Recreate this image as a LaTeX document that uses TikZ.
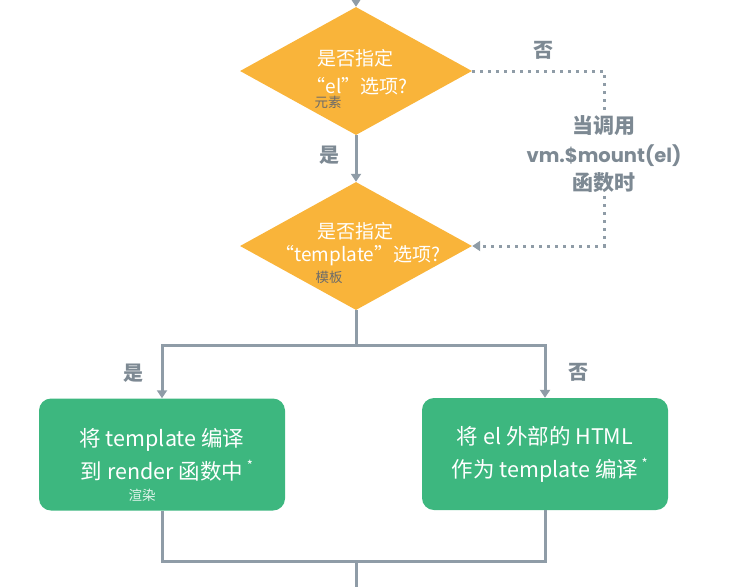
\documentclass[tikz,border=0pt]{standalone}
\usepackage{fontspec}
\setmainfont{Noto Sans CJK SC}
\newfontfamily\popfont{Poppins}
\usetikzlibrary{shapes.geometric,arrows.meta}
\definecolor{dorange}{HTML}{F9B43A}
\definecolor{bgreen}{HTML}{3DB77F}
\definecolor{lgrey}{HTML}{8F9CA7}
\definecolor{tgrey}{HTML}{7D8993}
\tikzset{
  decision/.style={diamond, fill=dorange, draw=none, inner sep=0pt, minimum width=232pt, minimum height=128pt},
  procbox/.style={rectangle, fill=bgreen, draw=none, rounded corners=12pt, minimum width=246pt, minimum height=112pt, text=white, align=center, font=\fontsize{21.5}{33}\selectfont},
  conn/.style={draw=lgrey, line width=3pt},
  arr/.style={conn, -{Triangle[length=8pt,width=10pt]}},
  dotconn/.style={draw=lgrey, line width=3pt, dash pattern=on 3pt off 5pt},
  dtext/.style={text=white, font=\fontsize{19}{22}\selectfont},
  lab/.style={text=tgrey, font=\bfseries\fontsize{20}{22}\selectfont},
  small/.style={font=\fontsize{13.5}{15}\selectfont}
}
\begin{document}
\begin{tikzpicture}[x=1pt,y=-1pt]
\useasboundingbox (0,0) rectangle (733,587);
% decisions
\node[decision] (d1) at (356,71) {};
\node[decision] (d2) at (356,246) {};
\node[dtext] (d1a) at (355,58) {是否指定};
\node[dtext] (d1b) at (357,86) {“el”选项?};
\node[small, text=black!58] (d1c) at (328,102) {元素};
\node[dtext] (d2a) at (355,231) {是否指定};
\node[dtext] (d2b) at (358,256) {“template”选项?};
\node[small, text=black!58] (d2c) at (329,277) {模板};
% boxes
\node[procbox] (b1) at (162,454.5) {将 template 编译\\到 render 函数中\rlap{\,\raisebox{9pt}{\fontsize{13}{13}\selectfont*}}};
\node[small, text=white!85!bgreen] (b1s) at (142,495) {渲染};
\node[procbox] (b2) at (545,454) {将 el 外部的 HTML\\作为 template 编译\rlap{\,\raisebox{9pt}{\fontsize{13}{13}\selectfont*}}};
% labels
\node[lab] (no1) at (543,50) {否};
\node[lab] (yes1) at (329,155) {是};
\node[lab] (yes2) at (133,373) {是};
\node[lab] (no2) at (578,372) {否};
\node[lab, align=center, inner sep=3pt, font=\bfseries\fontsize{21}{28.5}\selectfont] (mount) at (604,154.5) {当调用\\{\popfont\bfseries\fontsize{19.5}{28.5}\selectfont vm.\$mount(el)}\\函数时};
% connectors
\coordinate (topin) at (356,0);
\draw[arr] (topin) -- (d1.north);
\draw[arr] (d1.south) -- (d2.north);
\draw[dotconn] (d1.east) -| (mount.north);
\draw[dotconn, -{Triangle[length=8pt,width=10pt]}] (mount.south) |- (d2.east);
\coordinate (split) at (356,345);
\draw[conn] (d2.south) -- (split);
\draw[arr] (split) -| (b1.north);
\draw[arr] (split) -| (b2.north);
\coordinate (join) at (356,561);
\coordinate (botout) at (356,587);
\draw[conn] (b1.south) |- (join);
\draw[conn] (b2.south) |- (join);
\draw[conn] (join) -- (botout);
\end{tikzpicture}
\end{document}
